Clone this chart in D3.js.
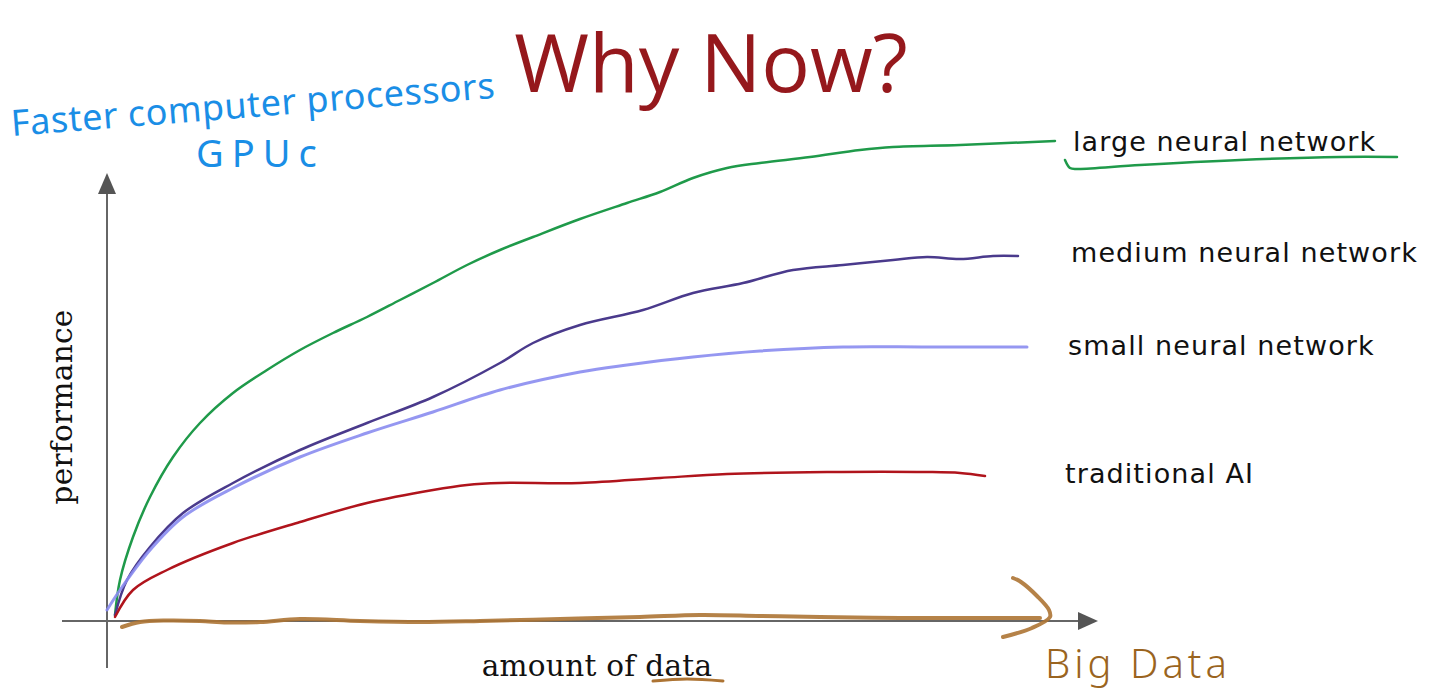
<!DOCTYPE html>
<html>
<head>
<meta charset="utf-8">
<script src="https://cdn.jsdelivr.net/npm/d3@7"></script>
<style>
  html, body { margin: 0; padding: 0; background: #ffffff; }
  svg { display: block; }
</style>
</head>
<body>
<script>
// ---------- DATA (x: amount of data 0-100, y: performance 0-100) ----------
const title = "Why Now?";
const xLabel = "amount of data";
const yLabel = "performance";
const seriesNames = ["large neural network", "medium neural network", "small neural network", "traditional AI"];
const seriesColors = ["#1f9a4a", "#4a3a8c", "#8a8cf0", "#b0141c"];

const largeNN = [[0.8,1.2],[1.3,8.2],[2.6,16.8],[4.3,24.8],[6.6,32.8],[9.3,39.6],[12.6,45.6],[16.0,50.2],[19.3,54.2],[22.6,57.6],[26.0,60.8],[29.3,64.2],[32.6,67.6],[36.0,71.2],[39.3,74.2],[42.6,76.8],[47.3,80.4],[52.0,83.6],[55.3,85.8],[58.6,88.6],[62.0,90.6],[65.3,91.6],[70.3,92.8],[75.3,94.2],[78.6,94.8],[85.3,95.2],[94.8,96.0]];
const mediumNN = [[0.8,1.2],[2.0,8.2],[4.3,14.8],[7.6,21.6],[12.6,27.6],[19.3,34.2],[26.0,39.6],[32.6,44.8],[39.3,51.6],[42.6,55.6],[47.3,59.2],[53.6,62.2],[58.6,65.6],[63.6,67.6],[68.6,70.2],[73.6,71.2],[78.6,72.2],[82.0,72.8],[85.3,72.4],[88.6,73.0],[91.1,73.0]];
const smallNN = [[0.0,2.2],[1.3,6.2],[4.3,14.2],[7.6,20.8],[12.6,26.6],[19.3,32.8],[26.0,37.6],[32.6,41.8],[39.3,46.2],[47.3,49.8],[52.0,51.2],[58.6,52.8],[65.3,54.0],[73.6,54.8],[82.0,54.8],[92.0,54.8]];
const traditionalAI = [[0.8,0.8],[2.6,6.2],[6.0,10.2],[12.6,15.6],[19.3,19.8],[26.0,23.6],[32.6,26.2],[36.0,27.2],[39.3,27.6],[47.3,27.6],[55.3,28.6],[62.0,29.4],[72.0,29.8],[82.0,29.8],[85.3,29.6],[87.8,29.0]];
const seriesData = [largeNN, mediumNN, smallNN, traditionalAI];
const labelAnchors = [[96.6, 94.0], [96.4, 71.8], [96.1, 53.2], [95.8, 27.6]];

// hand-drawn annotations (same data units)
const bigDataStroke = [[1.5,-1.2],[3.3,-0.2],[6,0.1],[9.3,0],[12,-0.3],[15.3,-0.2],[19.3,0.4],[25.3,0],[31.3,-0.2],[37.3,0],[45.3,0.4],[53.3,0.8],[59.3,1.2],[65.3,1.0],[71.3,0.8],[79.3,0.6],[87.3,0.6],[93.3,0.6]];
const bigDataHead = [[90.6,8.6],[91.4,7.8],[93.0,5.0],[94.2,2.2],[94.3,0.8],[92.5,-1.4],[89.6,-3.2]];
const dataUnderline = [[54.6,-12.0],[58.0,-11.6],[61.6,-12.0]];
const largeUnderline = [[95.8,92.2],[96.3,90.6],[97.0,90.4],[103.3,91.2],[113.3,92.2],[123.3,92.8],[129.0,92.8]];
const annotationBlue = ["Faster computer processors", "GPUc"];
const annotationBrown = "Big Data";

// ---------- LAYOUT ----------
const W = 1438, H = 697;
const x = d3.scaleLinear().domain([0, 100]).range([107, 1107]);
const y = d3.scaleLinear().domain([0, 100]).range([621, 121]);

const svg = d3.select("body").append("svg").attr("width", W).attr("height", H);

// axes
const axisColor = "#666666";
svg.append("line").attr("x1", x(0)).attr("x2", x(0)).attr("y1", y(-9.4)).attr("y2", y(85.8))
  .attr("stroke", axisColor).attr("stroke-width", 2);
svg.append("line").attr("x1", x(-4.5)).attr("x2", x(97.5)).attr("y1", y(0)).attr("y2", y(0))
  .attr("stroke", axisColor).attr("stroke-width", 2);
svg.append("path").attr("d", `M${x(0)},${y(89.6)} L${x(0)-9},${y(85.4)} L${x(0)+9},${y(85.4)} Z`).attr("fill", "#555");
svg.append("path").attr("d", `M${x(99.1)},${y(0)} L${x(97.1)},${y(0)-9} L${x(97.1)},${y(0)+9} Z`).attr("fill", "#555");

// axis labels
svg.append("text").text(xLabel).attr("x", 597).attr("y", 676)
  .attr("text-anchor", "middle").attr("font-family", "DejaVu Serif").attr("font-size", 29.5)
  .attr("letter-spacing", 0.3).attr("fill", "#111");
svg.append("text").text(yLabel)
  .attr("transform", `translate(72,407) rotate(-90)`)
  .attr("text-anchor", "middle").attr("font-family", "DejaVu Serif").attr("font-size", 29.5)
  .attr("letter-spacing", 0.3).attr("fill", "#111");

// title
svg.append("text").text(title).attr("x", 711).attr("y", 92)
  .attr("text-anchor", "middle").attr("font-family", "Open Sans").attr("font-size", 81).attr("fill", "#95181c");

// series lines
const line = d3.line().x(d => x(d[0])).y(d => y(d[1])).curve(d3.curveCatmullRom.alpha(0.5));
seriesData.forEach((s, i) => {
  svg.append("path").datum(s).attr("d", line).attr("fill", "none")
    .attr("stroke", seriesColors[i]).attr("stroke-width", i === 2 ? 3 : 2.5)
    .attr("stroke-linecap", "round").attr("stroke-opacity", i === 2 ? 0.9 : 1);
});

// series labels
seriesNames.forEach((n, i) => {
  svg.append("text").text(n).attr("x", x(labelAnchors[i][0])).attr("y", y(labelAnchors[i][1]))
    .attr("font-family", "DejaVu Sans").attr("font-size", 27).attr("letter-spacing", 1.1).attr("fill", "#111");
});

// hand-drawn annotations
const brown = "#ad7434";
const hand = d3.line().x(d => x(d[0])).y(d => y(d[1])).curve(d3.curveCatmullRom.alpha(0.5));
svg.append("path").datum(bigDataStroke).attr("d", hand).attr("fill", "none").attr("stroke", brown)
  .attr("stroke-width", 4).attr("stroke-linecap", "round").attr("stroke-opacity", 0.9);
svg.append("path").datum(bigDataHead).attr("d", hand).attr("fill", "none").attr("stroke", brown)
  .attr("stroke-width", 4).attr("stroke-linecap", "round").attr("stroke-linejoin", "round").attr("stroke-opacity", 0.9);
svg.append("path").datum(dataUnderline).attr("d", hand).attr("fill", "none").attr("stroke", brown)
  .attr("stroke-width", 3).attr("stroke-linecap", "round");
svg.append("path").datum(largeUnderline).attr("d", hand).attr("fill", "none").attr("stroke", "#1f9a4a")
  .attr("stroke-width", 2.5).attr("stroke-linecap", "round");

svg.append("text").text(annotationBrown).attr("x", 1045).attr("y", 678)
  .attr("font-family", "Noto Sans").attr("font-weight", 300).attr("font-size", 40).attr("letter-spacing", 4)
  .attr("fill", "#9a6420");

svg.append("text").text(annotationBlue[0])
  .attr("transform", "translate(12,136) rotate(-4.5)")
  .attr("font-family", "Noto Sans").attr("font-weight", 400).attr("font-size", 36).attr("letter-spacing", 0.5)
  .attr("fill", "#1a8ee6");
svg.append("text").text(annotationBlue[1]).attr("x", 196).attr("y", 167)
  .attr("font-family", "Noto Sans").attr("font-weight", 400).attr("font-size", 38).attr("letter-spacing", 8)
  .attr("fill", "#1a8ee6");
</script>
</body>
</html>
